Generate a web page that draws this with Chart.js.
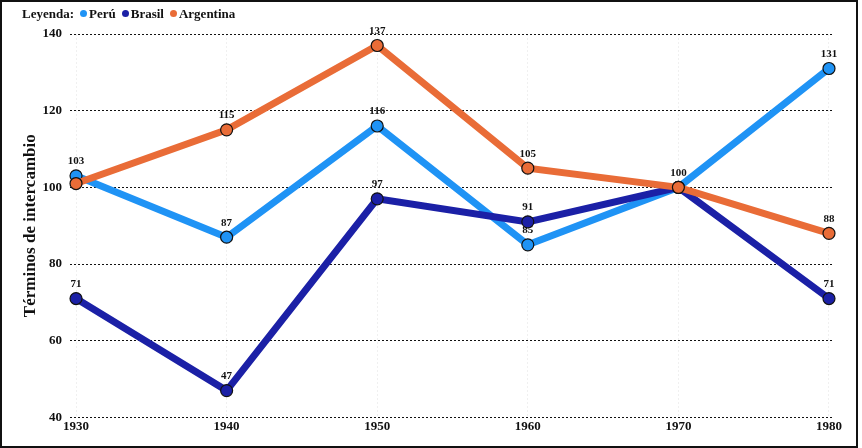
<!DOCTYPE html>
<html>
<head>
<meta charset="utf-8">
<script src="https://cdn.jsdelivr.net/npm/chart.js@4.4.1/dist/chart.umd.min.js"></script>
<style>
    body { margin: 0; background: #fff; }
    #wrap { position: relative; width: 862px; height: 448px; }
    #frame { position: absolute; left: 0; top: 0; width: 858px; height: 448px; box-sizing: border-box; border: 2px solid #111; pointer-events: none; }
    #legend { position: absolute; left: 22px; top: 6px; font: bold 13px "Liberation Serif", "Times New Roman", serif; color: #111; white-space: nowrap; }
    #legend span.dot { display: inline-block; width: 7px; height: 7px; border-radius: 50%; margin: 0 2px 0 6px; vertical-align: 1px; }
</style>
</head>
<body>
<div id="wrap">
    <canvas id="chart" width="862" height="448"></canvas>
    <div id="legend"></div>
    <div id="frame"></div>
</div>
<script>
// Data
const years = [1930, 1940, 1950, 1960, 1970, 1980];
const peru = [103, 87, 116, 85, 100, 131];
const brasil = [71, 47, 97, 91, 100, 71];
const argentina = [101, 115, 137, 105, 100, 88];
const seriesNames = ['Perú', 'Brasil', 'Argentina'];
const seriesColors = ['#1F93F5', '#1B20A6', '#E96C37'];
const yTicks = [40, 60, 80, 100, 120, 140];

// labels that the original leaves out (overlaps): [dataset, index]
const hiddenLabels = [[2, 0], [0, 4], [1, 4]];

const serif = '"Liberation Serif", "Times New Roman", serif';

// Legend in HTML
const legend = document.getElementById('legend');
legend.innerHTML = 'Leyenda:' + seriesNames.map((n, i) =>
    '<span class="dot" style="background:' + seriesColors[i] + '"></span>' + n
).join('');

// Value labels above points (drawn behind the lines)
const valueLabels = {
    id: 'valueLabels',
    beforeDatasetsDraw(chart) {
        const ctx = chart.ctx;
        ctx.save();
        ctx.font = 'bold 11px ' + serif;
        ctx.fillStyle = '#111';
        ctx.textAlign = 'center';
        ctx.textBaseline = 'bottom';
        chart.data.datasets.forEach((ds, di) => {
            chart.getDatasetMeta(di).data.forEach((pt, i) => {
                if (hiddenLabels.some(h => h[0] === di && h[1] === i)) return;
                ctx.fillText(ds.data[i].y, pt.x, pt.y - 9);
            });
        });
        ctx.restore();
    }
};

function makeSet(name, values, color, order) {
    return {
        label: name,
        data: years.map((yr, i) => ({ x: yr, y: values[i] })),
        borderColor: color,
        backgroundColor: color,
        borderWidth: 7,
        pointRadius: 6,
        pointBorderWidth: 1.2,
        pointBorderColor: '#111',
        pointBackgroundColor: color,
        clip: false,
        order: order
    };
}

const ctx = document.getElementById('chart').getContext('2d');
const chart = new Chart(ctx, {
    type: 'line',
    data: {
        datasets: [
            makeSet(seriesNames[0], peru, seriesColors[0], 3),
            makeSet(seriesNames[1], brasil, seriesColors[1], 2),
            makeSet(seriesNames[2], argentina, seriesColors[2], 1)
        ]
    },
    options: {
        responsive: false,
        animation: false,
        layout: { padding: { top: 34, right: 30, bottom: 13, left: 0 } },
        plugins: {
            legend: { display: false },
            tooltip: { enabled: false }
        },
        scales: {
            x: {
                type: 'linear',
                min: 1929.6,
                max: 1980.2,
                afterBuildTicks: s => { s.ticks = years.map(v => ({ value: v })); },
                grid: { color: '#f0f0f0', drawTicks: false },
                border: { display: false, dash: [2, 2] },
                ticks: {
                    color: '#111',
                    padding: 1,
                    font: { family: serif, size: 13, weight: 'bold' },
                    callback: v => String(v)
                }
            },
            y: {
                min: 40,
                max: 140,
                afterBuildTicks: s => { s.ticks = yTicks.map(v => ({ value: v })); },
                afterFit: s => { s.width = 70; },
                grid: { color: '#111', drawTicks: false },
                border: { display: false, dash: [2, 2] },
                ticks: {
                    color: '#111',
                    padding: 8,
                    font: { family: serif, size: 13, weight: 'bold' }
                },
                title: {
                    display: true,
                    text: 'Términos de intercambio',
                    color: '#111',
                    padding: { top: 20, bottom: 0 },
                    font: { family: serif, size: 17, weight: 'bold' }
                }
            }
        }
    },
    plugins: [valueLabels]
});
</script>
</body>
</html>
